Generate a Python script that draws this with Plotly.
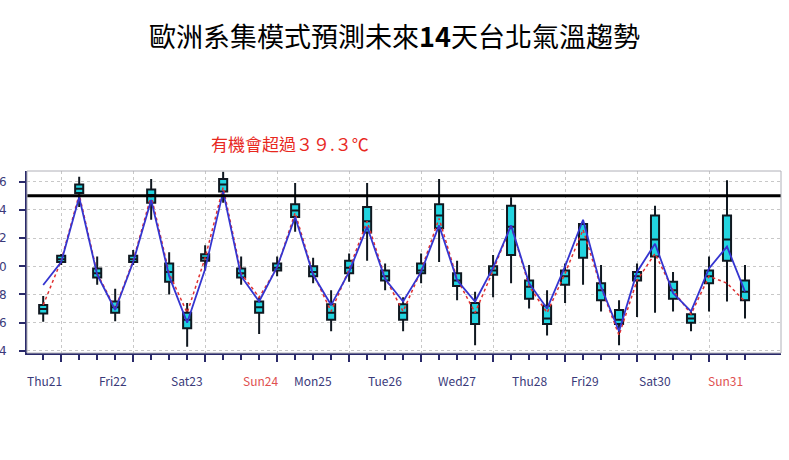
import plotly.graph_objects as go

steps = list(range(40))
median = [26.97,30.5,35.5,29.5,27.1,30.5,35.05,29.6,26.2,30.6,35.8,29.5,27.1,29.9,33.95,29.6,26.7,29.9,33.2,29.3,
          26.7,29.7,33.6,29.0,26.7,29.7,32.8,28.55,26.3,29.3,31.9,28.3,26.2,29.3,31.9,28.3,26.3,29.3,31.9,28.2]
q1 = [26.66,30.3,35.2,29.2,26.7,30.3,34.5,28.9,25.6,30.4,35.3,29.2,26.7,29.7,33.5,29.3,26.2,29.5,32.4,29.0,
      26.2,29.5,32.7,28.6,25.9,29.4,30.8,27.7,25.9,28.7,30.6,27.6,25.9,29.0,30.7,27.7,26.0,28.8,30.4,27.6]
q3 = [27.25,30.75,35.8,29.85,27.5,30.75,35.45,30.2,26.7,30.85,36.2,29.85,27.5,30.2,34.4,30.0,27.3,30.4,34.2,29.7,
      27.3,30.2,34.4,29.5,27.4,30.0,34.3,29.0,27.2,29.7,33.0,28.8,26.9,29.6,33.6,28.9,26.6,29.7,33.6,29.0]
low = [26.07,30.1,34.2,28.7,26.1,30.1,33.3,28.0,24.3,29.7,34.5,28.7,25.2,29.3,32.45,28.8,25.4,28.9,30.4,28.3,
       25.4,28.8,30.3,27.6,24.4,27.8,28.8,27.0,25.1,27.4,28.7,26.8,24.4,26.4,26.7,26.8,25.4,26.8,27.5,26.3]
high = [27.9,30.87,36.35,30.7,28.4,31.15,36.2,31.0,27.4,31.5,36.7,30.7,27.8,30.7,35.9,30.6,28.3,30.9,35.9,30.2,
        27.8,30.9,36.2,30.4,28.2,30.8,34.9,30.1,28.3,30.2,33.0,30.1,27.6,30.2,34.3,29.6,26.9,30.7,36.1,30.1]
control = [28.67,30.3,34.9,29.4,26.9,30.3,34.7,29.3,26.0,29.8,35.3,29.3,27.5,29.95,33.5,29.4,27.25,29.6,32.8,29.1,
           27.5,29.6,32.9,29.0,27.5,29.9,32.9,28.8,27.0,30.0,33.3,28.55,25.4,29.6,31.6,28.1,26.8,29.85,31.4,28.2]
mean = [27.25,30.4,35.1,29.5,27.0,30.4,35.0,29.5,26.7,30.6,35.6,29.5,27.8,29.9,33.8,29.5,26.8,29.8,33.2,29.2,
        26.8,29.7,33.4,29.1,26.7,29.7,32.9,28.6,26.7,29.5,32.6,28.5,25.1,29.0,30.9,28.3,26.6,29.3,28.8,27.5]
day_labels = ["Thu21","Fri22","Sat23","Sun24","Mon25","Tue26","Wed27","Thu28","Fri29","Sat30","Sun31"]
day_label_pos = [-1,3,7,11,15,19,23,27,31,35,39]
threshold = 35

XMIN, XMAX = -0.9, 41
fig = go.Figure()
fig.add_hline(y=threshold, line=dict(color="black", width=3))
fig.add_trace(go.Scatter(x=steps, y=mean, mode="lines", line=dict(color="#e03030", width=1.5, dash="dot")))
fig.add_trace(go.Box(x=steps, q1=q1, median=median, q3=q3, lowerfence=low, upperfence=high,
                     width=0.45, whiskerwidth=0, fillcolor="#22d4e0", line=dict(color="#101820", width=2)))
fig.add_trace(go.Scatter(x=steps, y=control, mode="lines", line=dict(color="#3535d0", width=1.8)))
fig.add_trace(go.Scatter(x=[-1.28], y=[threshold], mode="markers", cliponaxis=False,
                         marker=dict(size=11, color="#ffd0d0", line=dict(color="#ff3030", width=2.5))))

for lab, p in zip(day_labels, day_label_pos):
    fig.add_annotation(x=(p - XMIN) / (XMAX - XMIN), xref="paper", y=-0.15, yref="paper", yanchor="middle",
                       text=lab, showarrow=False,
                       font=dict(size=12, color="#e05050" if lab.startswith("Sun") else "#3a3a7a"))

plot_h = 460 - 171 - 107
fig.add_annotation(x=(290 - 27) / (789 - 35), xref="paper", y=1 + (171 - 143) / plot_h, yref="paper",
                   showarrow=False, xanchor="center", yanchor="middle",
                   text="有機會超過３９.３℃", font=dict(size=17, color="#e8281e"))

fig.update_layout(
    width=789, height=460, showlegend=False, plot_bgcolor="white", paper_bgcolor="white",
    margin=dict(l=27, r=8, t=171, b=107, autoexpand=False),
    font=dict(family="Noto Sans CJK TC"),
    title=dict(text="歐洲系集模式預測未來<b>14</b>天台北氣溫趨勢", x=0.5, xanchor="center", y=0.918, yanchor="middle",
               font=dict(size=27, color="black", family="Noto Sans CJK TC")),
)

fig.update_xaxes(range=[XMIN, XMAX], tickvals=list(range(1, 41, 4)), showticklabels=False,
                 ticks="outside", ticklen=7, tickwidth=2, tickcolor="#2a2a6a",
                 minor=dict(tickvals=steps, ticks="outside", ticklen=5, tickcolor="#2a2a6a", showgrid=False),
                 showgrid=True, gridcolor="#c8c8c8", griddash="dot", gridwidth=1,
                 showline=True, linecolor="#2a2a6a", linewidth=2, zeroline=False)
fig.update_yaxes(range=[23.85, 36.76], tickvals=[24, 26, 28, 30, 32, 34, 36], ticks="outside", ticklen=6,
                 tickwidth=2, tickcolor="#2a2a6a", ticklabelstandoff=10,
                 tickfont=dict(size=12, color="#3a3a7a", family="DejaVu Sans"),
                 showgrid=True, gridcolor="#c8c8c8", griddash="dot",
                 showline=True, linecolor="#2a2a6a", linewidth=2, zeroline=False)
fig.add_shape(type="rect", xref="paper", yref="paper", x0=0, x1=1, y0=0, y1=1,
              line=dict(color="#b0b0b8", width=1))
fig.write_html("out.html", config={"displayModeBar": False},
               post_script="document.body.style.margin='0';document.body.style.overflow='hidden';")
